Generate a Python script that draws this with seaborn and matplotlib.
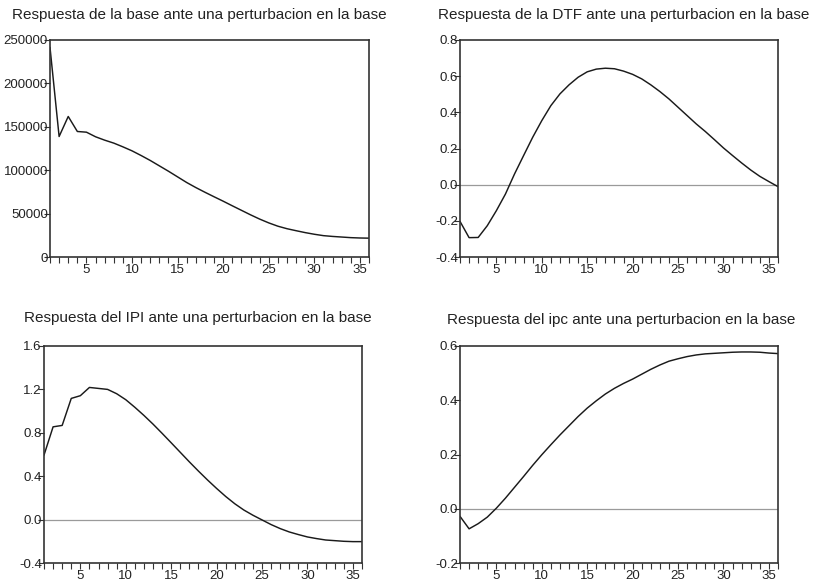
import numpy as np
import pandas as pd
import matplotlib
matplotlib.use("Agg")
import matplotlib.pyplot as plt
from matplotlib.ticker import MultipleLocator, FixedLocator
import seaborn as sns

periods = list(range(1, 37))

base_resp = [241500, 138800, 161900, 144600, 143800, 138500, 134600, 131200, 126900, 122300,
             116900, 111200, 105000, 98800, 92300, 85800, 80000, 74600, 69400, 64300,
             59000, 53800, 48600, 43700, 39300, 35500, 32600, 30300, 28100, 26200,
             24600, 23700, 23000, 22300, 21900, 21700]

dtf_resp = [-0.203, -0.293, -0.292, -0.227, -0.144, -0.052, 0.059, 0.161, 0.262, 0.354,
            0.437, 0.502, 0.552, 0.594, 0.624, 0.639, 0.644, 0.641, 0.628, 0.610,
            0.585, 0.552, 0.515, 0.474, 0.428, 0.382, 0.336, 0.294, 0.249, 0.203,
            0.161, 0.120, 0.081, 0.046, 0.017, -0.011]

ipi_resp = [0.594, 0.855, 0.868, 1.117, 1.142, 1.218, 1.209, 1.200, 1.160, 1.105,
            1.035, 0.960, 0.880, 0.795, 0.708, 0.620, 0.532, 0.447, 0.365, 0.287,
            0.213, 0.146, 0.088, 0.040, -0.003, -0.046, -0.083, -0.114, -0.138, -0.160,
            -0.175, -0.188, -0.194, -0.200, -0.203, -0.203]

ipc_resp = [-0.028, -0.074, -0.055, -0.031, 0.002, 0.039, 0.079, 0.119, 0.160, 0.199,
            0.236, 0.272, 0.306, 0.340, 0.371, 0.398, 0.423, 0.444, 0.462, 0.478,
            0.496, 0.514, 0.530, 0.544, 0.553, 0.561, 0.567, 0.571, 0.573, 0.575,
            0.577, 0.578, 0.578, 0.577, 0.574, 0.572]

titles = ["Respuesta de la base ante una perturbacion en la base",
          "Respuesta de la DTF ante una perturbacion en la base",
          "Respuesta del IPI ante una perturbacion en la base",
          "Respuesta del ipc ante una perturbacion en la base"]

y_ticks = [[0, 50000, 100000, 150000, 200000, 250000],
           [-0.4, -0.2, 0.0, 0.2, 0.4, 0.6, 0.8],
           [-0.4, 0.0, 0.4, 0.8, 1.2, 1.6],
           [-0.2, 0.0, 0.2, 0.4, 0.6]]
y_labels = [["0", "50000", "100000", "150000", "200000", "250000"],
            ["-0.4", "-0.2", "0.0", "0.2", "0.4", "0.6", "0.8"],
            ["-0.4", "0.0", "0.4", "0.8", "1.2", "1.6"],
            ["-0.2", "0.0", "0.2", "0.4", "0.6"]]
x_ticks = [5, 10, 15, 20, 25, 30, 35]

sns.set_theme(style="white")
plt.rcParams['font.family'] = ['Liberation Sans', 'DejaVu Sans']

W, H = 813, 581
fig = plt.figure(figsize=(W / 100, H / 100), dpi=100)

# axes boxes in pixel coords (left, right, top, bottom)
boxes = [(50, 369, 40, 257), (460, 778, 40, 257), (44, 362, 346, 563), (460, 778, 346, 563)]
title_pos = [(199, 15), (624, 15), (198, 318), (621, 320)]
series = [base_resp, dtf_resp, ipi_resp, ipc_resp]
zero_line = [False, True, True, True]

for i in range(4):
    l, r, t, b = boxes[i]
    ax = fig.add_axes([l / W, 1 - b / H, (r - l) / W, (b - t) / H])
    df = pd.DataFrame({"t": periods, "v": series[i]})
    if zero_line[i]:
        ax.axhline(0, color="#9a9a9a", lw=0.9, zorder=1)
    sns.lineplot(data=df, x="t", y="v", ax=ax, color="#1a1a1a", lw=1.05, zorder=2)
    ax.set_xlim(1, 36)
    ax.set_ylim(y_ticks[i][0], y_ticks[i][-1])
    ax.set_xlabel("")
    ax.set_ylabel("")
    ax.yaxis.set_major_locator(FixedLocator(y_ticks[i]))
    ax.set_yticklabels(y_labels[i])
    ax.xaxis.set_major_locator(FixedLocator(x_ticks))
    ax.set_xticklabels([str(x) for x in x_ticks])
    ax.xaxis.set_minor_locator(MultipleLocator(1))
    ax.tick_params(axis="both", which="both", direction="out", colors="#333333",
                   labelcolor="#222222", labelsize=9.5, width=0.8)
    ax.tick_params(axis="x", which="major", length=4.5, pad=0.5)
    ax.tick_params(axis="x", which="minor", length=4.5)
    ax.tick_params(axis="y", which="major", length=4, pad=-2.5)
    ax.tick_params(bottom=True, left=True, which="both")
    ax.tick_params(axis="y", which="minor", left=False)
    for s in ax.spines.values():
        s.set_color("#333333")
        s.set_linewidth(1.2)
    ax.set_facecolor("white")
    tx, ty = title_pos[i]
    fig.text(tx / W, 1 - ty / H, titles[i], ha="center", va="center",
             fontsize=11, color="#222222")

fig.savefig("out.png", dpi=100, facecolor="white")
